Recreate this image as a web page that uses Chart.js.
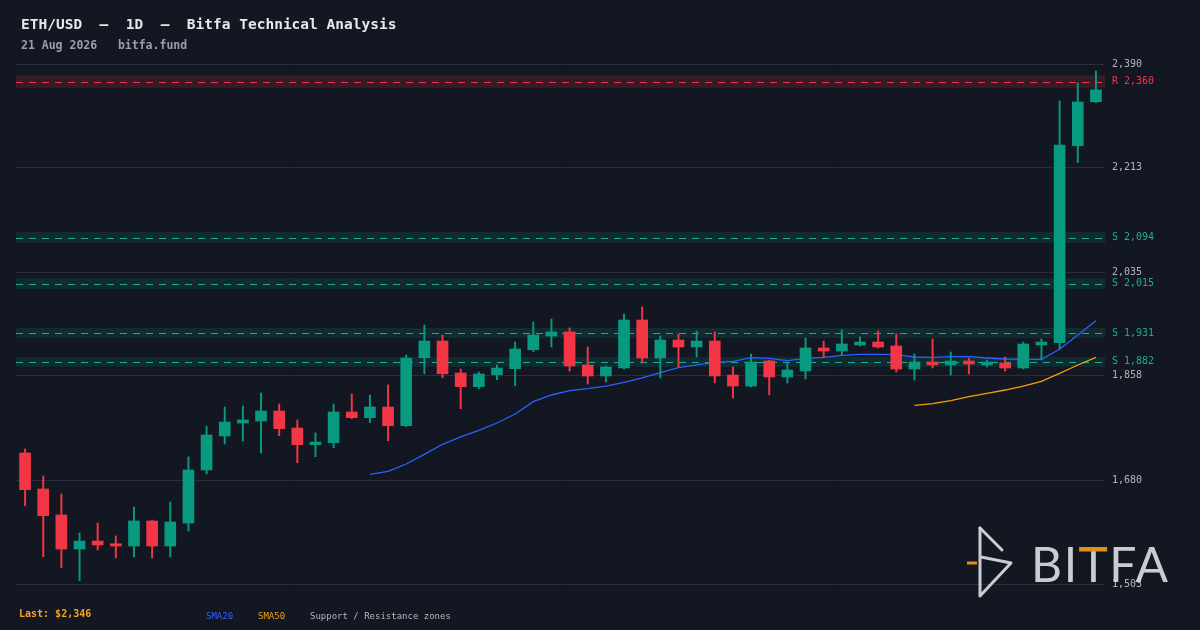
<!DOCTYPE html>
<html>
<head>
<meta charset="utf-8">
<script src="https://cdn.jsdelivr.net/npm/chart.js@4.4.0/dist/chart.umd.min.js"></script>
<style>
  html, body { margin: 0; padding: 0; background: #131722; }
  canvas { display: block; }
</style>
</head>
<body>
<canvas id="chart" width="1200" height="630"></canvas>
<script>
// daily candles, 23 Jun - 21 Aug 2026
const dates = [
  '2026-06-23','2026-06-24','2026-06-25','2026-06-26','2026-06-27','2026-06-28','2026-06-29','2026-06-30',
  '2026-07-01','2026-07-02','2026-07-03','2026-07-04','2026-07-05','2026-07-06','2026-07-07','2026-07-08',
  '2026-07-09','2026-07-10','2026-07-11','2026-07-12','2026-07-13','2026-07-14','2026-07-15','2026-07-16',
  '2026-07-17','2026-07-18','2026-07-19','2026-07-20','2026-07-21','2026-07-22','2026-07-23','2026-07-24',
  '2026-07-25','2026-07-26','2026-07-27','2026-07-28','2026-07-29','2026-07-30','2026-07-31','2026-08-01',
  '2026-08-02','2026-08-03','2026-08-04','2026-08-05','2026-08-06','2026-08-07','2026-08-08','2026-08-09',
  '2026-08-10','2026-08-11','2026-08-12','2026-08-13','2026-08-14','2026-08-15','2026-08-16','2026-08-17',
  '2026-08-18','2026-08-19','2026-08-20','2026-08-21'
];

const opens = [
  1726.5, 1665.1, 1620.7, 1562.7, 1576.3, 1571.7, 1567.8, 1610.5, 1567.8, 1607.0,
  1697.5, 1755.5, 1777.6, 1781.0, 1798.1, 1769.1, 1740.6, 1744.0, 1796.4, 1786.7,
  1804.9, 1773.0, 1889.0, 1917.5, 1862.9, 1839.6, 1860.0, 1870.3, 1902.7, 1926.0,
  1932.9, 1876.6, 1857.8, 1871.5, 1953.3, 1888.5, 1919.2, 1907.3, 1917.5, 1859.5,
  1840.7, 1883.4, 1856.1, 1866.3, 1905.6, 1900.4, 1910.7, 1915.8, 1909.0, 1869.7,
  1881.7, 1876.6, 1883.4, 1876.6, 1880.0, 1871.5, 1910.7, 1914.6, 2250.6, 2325.7
];
const highs = [
  1733.3, 1687.2, 1656.5, 1590.0, 1607.0, 1584.9, 1634.3, 1612.2, 1642.9, 1719.6,
  1772.5, 1804.9, 1806.6, 1828.8, 1810.0, 1782.8, 1760.6, 1810.0, 1827.1, 1825.4,
  1842.5, 1893.6, 1944.8, 1927.7, 1869.7, 1864.6, 1876.6, 1915.8, 1949.9, 1955.0,
  1939.7, 1907.3, 1874.9, 1963.6, 1975.5, 1926.0, 1929.5, 1934.6, 1932.9, 1873.2,
  1895.3, 1884.5, 1881.7, 1922.6, 1917.5, 1936.3, 1924.3, 1934.6, 1929.5, 1895.3,
  1920.9, 1898.7, 1888.5, 1885.1, 1890.2, 1915.8, 1920.9, 2326.9, 2357.6, 2378.0
];
const lows = [
  1636.6, 1549.6, 1530.8, 1508.6, 1561.0, 1547.4, 1549.1, 1547.4, 1549.1, 1593.4,
  1690.6, 1741.8, 1746.9, 1726.5, 1756.0, 1709.9, 1720.1, 1735.5, 1785.0, 1778.1,
  1747.4, 1771.3, 1861.7, 1854.9, 1802.0, 1836.1, 1851.5, 1841.3, 1899.3, 1907.3,
  1866.3, 1844.2, 1847.6, 1869.7, 1880.0, 1854.4, 1873.2, 1890.2, 1845.9, 1820.3,
  1839.0, 1825.4, 1845.9, 1852.7, 1890.2, 1893.6, 1909.0, 1905.6, 1864.6, 1851.0,
  1871.5, 1859.5, 1861.2, 1873.2, 1866.3, 1869.7, 1885.1, 1903.9, 2221.7, 2324.0
];
const closes = [
  1663.9, 1619.5, 1562.7, 1576.3, 1569.5, 1567.8, 1610.5, 1567.8, 1608.8, 1697.5,
  1757.2, 1779.3, 1782.8, 1798.1, 1767.9, 1740.6, 1745.2, 1796.4, 1786.7, 1804.9,
  1773.0, 1888.5, 1917.5, 1861.7, 1839.6, 1861.2, 1871.4, 1903.9, 1927.7, 1932.9,
  1874.9, 1857.8, 1873.2, 1953.3, 1888.5, 1919.2, 1907.3, 1917.5, 1857.8, 1840.7,
  1881.7, 1856.1, 1868.0, 1905.6, 1900.4, 1912.4, 1915.8, 1907.3, 1869.7, 1881.7,
  1876.6, 1883.4, 1878.3, 1881.7, 1871.5, 1912.4, 1915.8, 2251.8, 2325.2, 2346.0
];

// moving averages (first value at candle 20 / candle 50)
const sma20 = [
  1690.1, 1695.2, 1707.7, 1724.2, 1741.3, 1753.8, 1765.2, 1777.6, 1793.0, 1814.0,
  1825.4, 1832.7, 1836.1, 1840.7, 1847.1, 1854.4, 1863.4, 1872.0, 1876.6, 1880.5,
  1882.9, 1889.0, 1888.0, 1884.2, 1888.0, 1889.7, 1893.1, 1894.8, 1894.8, 1894.1,
  1890.2, 1889.7, 1890.7, 1890.7, 1888.5, 1886.8, 1886.3, 1886.3, 1903.4, 1927.7,
  1952.1
];
const sma50 = [
  1807.8, 1810.6, 1815.7, 1822.5, 1828.3, 1833.9, 1840.7, 1848.8, 1862.4, 1876.6,
  1889.7
];

const resistanceLevels = [2360];
const supportLevels = [2094, 2015, 1931, 1882];
const yTicks = [1503, 1680, 1858, 2035, 2213, 2390];

const zoneHalfPct = 0.0045;
const mono = '"DejaVu Sans Mono", monospace';
const upColor = '#089981';
const downColor = '#f23645';

function padStart(values, total) {
  return Array(total - values.length).fill(null).concat(values);
}

const candleColors = closes.map((c, i) => c >= opens[i] ? upColor : downColor);

const fmt = (v) => Math.round(v).toLocaleString('en-US');

const overlay = {
  id: 'overlay',
  beforeDraw(chart) {
    const { ctx, width, height } = chart;
    ctx.save();
    ctx.fillStyle = '#131722';
    ctx.fillRect(0, 0, width, height);
    ctx.restore();
  },
  beforeDatasetsDraw(chart) {
    const { ctx, chartArea: a, scales: { y } } = chart;
    ctx.save();
    const levels = resistanceLevels.map(v => ({ v, r: true }))
      .concat(supportLevels.map(v => ({ v, r: false })));
    levels.forEach(l => {
      const top = y.getPixelForValue(l.v * (1 + zoneHalfPct));
      const bot = y.getPixelForValue(l.v * (1 - zoneHalfPct));
      ctx.fillStyle = l.r ? 'rgba(242,54,69,0.16)' : 'rgba(8,153,129,0.16)';
      ctx.fillRect(a.left, top, a.right - a.left, bot - top);
      const py = Math.round(y.getPixelForValue(l.v)) + 0.5;
      ctx.strokeStyle = l.r ? '#f23645' : '#22ab94';
      ctx.lineWidth = 1.2;
      ctx.setLineDash([7, 6]);
      ctx.beginPath();
      ctx.moveTo(a.left, py);
      ctx.lineTo(a.right, py);
      ctx.stroke();
    });
    ctx.restore();
  },
  afterDraw(chart) {
    const { ctx, chartArea: a, scales: { y } } = chart;
    ctx.save();

    // level labels on the price axis
    ctx.font = '10px ' + mono;
    ctx.textBaseline = 'middle';
    ctx.textAlign = 'left';
    resistanceLevels.forEach(v => {
      ctx.fillStyle = '#f23645';
      ctx.fillText('R ' + fmt(v), a.right + 7, y.getPixelForValue(v));
    });
    supportLevels.forEach(v => {
      ctx.fillStyle = '#22ab94';
      ctx.fillText('S ' + fmt(v), a.right + 7, y.getPixelForValue(v));
    });

    // title
    ctx.textBaseline = 'alphabetic';
    ctx.fillStyle = '#e6e8ee';
    ctx.font = 'bold 14.5px ' + mono;
    ctx.fillText('ETH/USD  \u2014  1D  \u2014  Bitfa Technical Analysis', 21, 29);
    ctx.fillStyle = '#9a9ea8';
    ctx.font = 'bold 11.5px ' + mono;
    ctx.fillText('21 Aug 2026   bitfa.fund', 21, 49);

    // footer
    ctx.fillStyle = '#f7a21b';
    ctx.font = 'bold 10px ' + mono;
    ctx.fillText('Last: $' + fmt(closes[closes.length - 1]), 19, 617);
    ctx.font = '9px ' + mono;
    ctx.fillStyle = '#2962ff';
    ctx.fillText('SMA20', 206, 619);
    ctx.fillStyle = '#f59e0b';
    ctx.fillText('SMA50', 258, 619);
    ctx.fillStyle = '#b2b5be';
    ctx.fillText('Support / Resistance zones', 310, 619);

    // logo
    const logoGray = 'rgba(218,220,226,0.92)';
    const logoOrange = '#e08e1a';
    ctx.strokeStyle = logoGray;
    ctx.lineWidth = 3;
    ctx.lineCap = 'round';
    ctx.lineJoin = 'round';
    ctx.beginPath();
    ctx.moveTo(980, 528);
    ctx.lineTo(1002, 550);
    ctx.stroke();
    ctx.beginPath();
    ctx.moveTo(980, 528);
    ctx.lineTo(980, 596);
    ctx.lineTo(1011, 563);
    ctx.lineTo(981, 557);
    ctx.stroke();
    ctx.strokeStyle = logoOrange;
    ctx.lineCap = 'butt';
    ctx.beginPath();
    ctx.moveTo(967, 563);
    ctx.lineTo(977, 563);
    ctx.stroke();

    ctx.font = '400 48px Lato, "Open Sans", sans-serif';
    const word = 'BITFA';
    const wx = 1031, wb = 582;
    const plain = ctx.measureText(word).width;
    const ls = (137 - plain) / (word.length - 1);
    ctx.letterSpacing = ls + 'px';
    ctx.fillStyle = logoGray;
    ctx.fillText(word, wx, wb);
    ctx.letterSpacing = '0px';
    const tx = wx + ctx.measureText('BI').width + 2 * ls;
    const tm = ctx.measureText('T');
    ctx.fillStyle = logoOrange;
    ctx.fillRect(tx - tm.actualBoundingBoxLeft, wb - tm.actualBoundingBoxAscent,
      tm.actualBoundingBoxLeft + tm.actualBoundingBoxRight, 4.5);

    ctx.restore();
  }
};

new Chart(document.getElementById('chart'), {
  type: 'bar',
  data: {
    labels: dates,
    datasets: [
      {
        type: 'line',
        label: 'SMA20',
        data: padStart(sma20, dates.length),
        borderColor: '#2962ff',
        borderWidth: 1.3,
        pointRadius: 0,
        tension: 0,
        order: 3
      },
      {
        type: 'line',
        label: 'SMA50',
        data: padStart(sma50, dates.length),
        borderColor: '#f59e0b',
        borderWidth: 1.3,
        pointRadius: 0,
        tension: 0,
        order: 3
      },
      {
        label: 'wick',
        data: lows.map((l, i) => [l, highs[i]]),
        backgroundColor: candleColors,
        barThickness: 1.3,
        grouped: false,
        order: 2
      },
      {
        label: 'body',
        data: opens.map((o, i) => [o, closes[i]]),
        backgroundColor: candleColors,
        barThickness: 11,
        grouped: false,
        order: 1
      }
    ]
  },
  options: {
    responsive: false,
    animation: false,
    devicePixelRatio: 1,
    layout: { padding: { left: 16, right: 0, top: 64, bottom: 46 } },
    plugins: {
      legend: { display: false },
      tooltip: { enabled: false }
    },
    scales: {
      x: {
        type: 'category',
        display: false,
        offset: true,
        grid: { display: false }
      },
      y: {
        position: 'right',
        min: yTicks[0],
        max: yTicks[yTicks.length - 1],
        afterBuildTicks: (scale) => {
          scale.ticks = yTicks.map(v => ({ value: v }));
        },
        afterFit: (scale) => { scale.width = 95; },
        border: { display: false },
        grid: { color: '#2a2e39', lineWidth: 1, drawTicks: false },
        ticks: {
          padding: 7,
          color: '#b2b5be',
          font: { family: mono, size: 10 },
          callback: (v) => fmt(v)
        }
      }
    }
  },
  plugins: [overlay]
});
</script>
</body>
</html>
